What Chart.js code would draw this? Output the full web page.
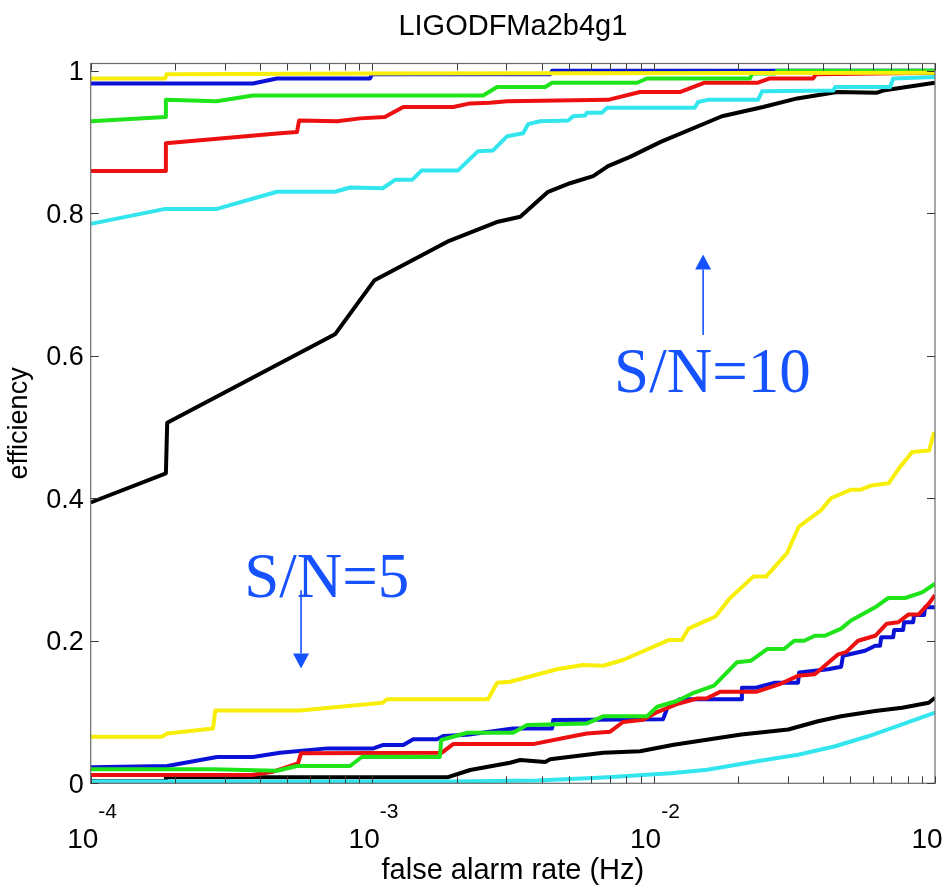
<!DOCTYPE html>
<html>
<head>
<meta charset="utf-8">
<title>LIGODFMa2b4g1</title>
<script src="https://cdn.jsdelivr.net/npm/chart.js@4.4.1/dist/chart.umd.min.js"></script>
<style>
  html, body { margin: 0; padding: 0; background: #ffffff; overflow: hidden; }
  canvas { display: block; }
</style>
</head>
<body>
<canvas id="eff" width="942" height="891"></canvas>
<script>
// Efficiency vs. false alarm rate, pairs of [rate (Hz), efficiency].

// S/N = 10 curves
const snr10Yellow = [[1.00e-4,0.989],[1.84e-4,0.989],[1.86e-4,0.995],[1.00e-3,0.996],[1.00e-1,0.997]];
const snr10Blue = [[1.00e-4,0.982],[3.77e-4,0.982],[4.59e-4,0.989],[9.83e-4,0.989],[1.00e-3,0.995],
  [4.29e-3,0.995],[4.36e-3,1.0],[1.00e-1,1.0]];
const snr10Green = [[1.00e-4,0.929],[1.84e-4,0.935],[1.85e-4,0.959],[2.80e-4,0.957],[3.77e-4,0.965],
  [2.48e-3,0.965],[2.78e-3,0.977],[4.12e-3,0.977],[4.36e-3,0.983],[8.74e-3,0.983],[9.48e-3,0.989],
  [2.20e-2,0.989],[2.24e-2,0.996],[2.70e-2,0.996],[2.75e-2,1.0],[1.00e-1,1.0]];
const snr10Red = [[1.00e-4,0.859],[1.84e-4,0.859],[1.85e-4,0.898],[4.71e-4,0.912],[5.41e-4,0.914],
  [5.50e-4,0.930],[7.50e-4,0.929],[9.06e-4,0.933],[1.11e-3,0.935],[1.29e-3,0.949],[1.94e-3,0.949],
  [2.23e-3,0.954],[2.62e-3,0.955],[3.02e-3,0.957],[6.89e-3,0.959],[8.95e-3,0.970],[1.24e-2,0.970],
  [1.52e-2,0.983],[2.35e-2,0.983],[2.59e-2,0.989],[3.69e-2,0.989],[3.78e-2,0.995],[1.00e-1,0.997]];
const snr10Cyan = [[1.00e-4,0.785],[1.84e-4,0.806],[2.81e-4,0.806],[4.59e-4,0.830],[7.38e-4,0.830],
  [8.35e-4,0.836],[1.09e-3,0.835],[1.21e-3,0.847],[1.39e-3,0.847],[1.50e-3,0.860],[2.02e-3,0.860],
  [2.38e-3,0.887],[2.69e-3,0.888],[3.02e-3,0.908],[3.44e-3,0.912],[3.58e-3,0.925],[3.95e-3,0.929],
  [4.97e-3,0.930],[5.18e-3,0.936],[5.71e-3,0.937],[5.80e-3,0.941],[6.56e-3,0.941],[6.84e-3,0.948],
  [1.40e-2,0.948],[1.44e-2,0.956],[1.56e-2,0.959],[2.35e-2,0.959],[2.43e-2,0.971],[4.35e-2,0.972],
  [4.42e-2,0.977],[6.93e-2,0.977],[7.10e-2,0.989],[1.00e-1,0.991]];
const snr10Black = [[1.00e-4,0.394],[1.85e-4,0.435],[1.87e-4,0.506],[7.38e-4,0.630],[1.02e-3,0.706],
  [1.85e-3,0.760],[2.80e-3,0.788],[3.36e-3,0.795],[4.22e-3,0.830],[5.05e-3,0.842],[6.10e-3,0.852],
  [6.89e-3,0.866],[8.25e-3,0.879],[1.06e-2,0.900],[1.75e-2,0.936],[2.45e-2,0.949],[3.24e-2,0.961],
  [4.49e-2,0.970],[6.23e-2,0.969],[6.54e-2,0.972],[1.00e-1,0.983]];

// S/N = 5 curves
const snr5Yellow = [[1.00e-4,0.0654],[1.79e-4,0.0654],[1.87e-4,0.070],[2.72e-4,0.077],[2.77e-4,0.102],
  [5.54e-4,0.102],[1.09e-3,0.113],[1.13e-3,0.118],[2.58e-3,0.118],[2.78e-3,0.141],[3.09e-3,0.1425],
  [4.54e-3,0.160],[5.62e-3,0.166],[6.62e-3,0.165],[7.79e-3,0.173],[1.13e-2,0.201],[1.26e-2,0.201],
  [1.33e-2,0.217],[1.66e-2,0.234],[1.86e-2,0.259],[2.26e-2,0.290],[2.51e-2,0.290],[2.98e-2,0.323],
  [3.28e-2,0.360],[3.93e-2,0.383],[4.27e-2,0.400],[5.03e-2,0.412],[5.46e-2,0.412],[5.95e-2,0.418],
  [6.84e-2,0.421],[7.52e-2,0.444],[8.30e-2,0.465],[9.53e-2,0.467],[9.93e-2,0.493]];
const snr5Blue = [[1.00e-4,0.0224],[1.87e-4,0.0243],[2.81e-4,0.037],[3.77e-4,0.037],[4.71e-4,0.043],
  [6.92e-4,0.049],[1.01e-3,0.049],[1.09e-3,0.0537],[1.29e-3,0.0537],[1.40e-3,0.0617],[1.70e-3,0.0617],
  [1.79e-3,0.0663],[2.18e-3,0.068],[3.17e-3,0.077],[4.36e-3,0.077],[4.40e-3,0.0888],[1.08e-2,0.0897],
  [1.12e-2,0.106],[1.24e-2,0.118],[2.05e-2,0.118],[2.06e-2,0.134],[2.31e-2,0.134],[2.68e-2,0.141],
  [3.26e-2,0.141],[3.29e-2,0.1555],[4.17e-2,0.160],[4.64e-2,0.1636],[4.71e-2,0.179],[5.64e-2,0.186],
  [6.13e-2,0.193],[6.38e-2,0.193],[6.44e-2,0.205],[7.10e-2,0.205],[7.16e-2,0.215],[7.70e-2,0.215],
  [7.77e-2,0.226],[8.36e-2,0.226],[8.43e-2,0.236],[9.15e-2,0.236],[9.22e-2,0.247],[1.00e-1,0.247]];
const snr5Green = [[1.00e-4,0.0196],[2.72e-4,0.0196],[4.59e-4,0.0177],[5.41e-4,0.0243],[8.35e-4,0.0243],
  [9.21e-4,0.0373],[1.74e-3,0.037],[1.76e-3,0.0607],[2.18e-3,0.071],[3.17e-3,0.071],[3.55e-3,0.0818],
  [5.80e-3,0.084],[6.62e-3,0.094],[9.48e-3,0.094],[1.03e-2,0.1074],[1.21e-2,0.1155],[1.39e-2,0.127],
  [1.64e-2,0.137],[1.98e-2,0.170],[2.22e-2,0.172],[2.54e-2,0.1885],[2.91e-2,0.1885],[3.16e-2,0.200],
  [3.43e-2,0.200],[3.74e-2,0.207],[4.06e-2,0.207],[4.64e-2,0.217],[5.03e-2,0.2285],[6.13e-2,0.247],
  [6.82e-2,0.260],[7.83e-2,0.260],[9.00e-2,0.268],[1.00e-1,0.280]];
const snr5Red = [[1.00e-4,0.0117],[3.74e-4,0.0117],[4.45e-4,0.0163],[5.45e-4,0.028],[5.59e-4,0.042],
  [1.77e-3,0.043],[1.94e-3,0.055],[3.73e-3,0.055],[5.05e-3,0.0654],[5.80e-3,0.070],[7.01e-3,0.0724],
  [7.79e-3,0.086],[9.18e-3,0.089],[1.03e-2,0.100],[1.21e-2,0.111],[1.43e-2,0.119],[1.54e-2,0.119],
  [1.73e-2,0.1286],[2.33e-2,0.1286],[2.84e-2,0.140],[3.26e-2,0.1508],[3.74e-2,0.153],[4.53e-2,0.181],
  [4.83e-2,0.184],[5.33e-2,0.200],[6.13e-2,0.207],[6.74e-2,0.224],[7.40e-2,0.226],[8.06e-2,0.237],
  [8.75e-2,0.237],[9.50e-2,0.252],[1.00e-1,0.264]];
const snr5Cyan = [[1.00e-4,0.0025],[1.89e-3,0.0025],[3.86e-3,0.004],[6.62e-3,0.008],[1.15e-2,0.014],
  [1.55e-2,0.019],[2.33e-2,0.031],[3.26e-2,0.040],[4.42e-2,0.052],[5.79e-2,0.066],[7.64e-2,0.0826],
  [1.00e-1,0.099]];
const snr5Black = [[1.00e-4,0.003],[1.84e-4,0.003],[1.85e-4,0.0084],[1.85e-3,0.0084],[2.23e-3,0.0187],
  [3.09e-3,0.0289],[3.36e-3,0.0327],[4.12e-3,0.030],[4.29e-3,0.0337],[6.62e-3,0.043],[8.95e-3,0.045],
  [1.18e-2,0.054],[2.05e-2,0.0684],[3.01e-2,0.0755],[3.84e-2,0.087],[4.64e-2,0.094],[6.13e-2,0.1014],
  [7.64e-2,0.106],[9.50e-2,0.113],[1.00e-1,0.120]];

// Axis ticks and labels
const yTickValues = [0, 0.2, 0.4, 0.6, 0.8, 1];
const yTickLabels = ['0', '0.2', '0.4', '0.6', '0.8', '1'];
const xDecadeValues = [1e-4, 1e-3, 1e-2, 1e-1];
const xDecadeExponents = ['-4', '-3', '-2', '-1'];
const chartTitle = 'LIGODFMa2b4g1';
const xAxisTitle = 'false alarm rate (Hz)';
const yAxisTitle = 'efficiency';

// Annotations: label text, label anchor [rate, efficiency], arrow from/to [rate, efficiency]
const noteHigh = { text: 'S/N=10', at: [7.24e-3, 0.5495], arrowFrom: [1.50e-2, 0.629], arrowTo: [1.50e-2, 0.742] };
const noteLow  = { text: 'S/N=5',  at: [3.51e-4, 0.2617], arrowFrom: [5.59e-4, 0.271], arrowTo: [5.59e-4, 0.161] };

const SANS = '"Liberation Sans", Arial, Helvetica, sans-serif';
const SERIF = '"Liberation Serif", "Times New Roman", serif';
const NOTE_BLUE = '#1652ff';

const palette = {
  yellow: '#f7ee0a',
  green: '#1fe41a',
  red: '#ec1010',
  blue: '#0b12d8',
  cyan: '#33e6ee',
  black: '#000000'
};

function toPoints(pairs) { return pairs.map(p => ({ x: p[0], y: p[1] })); }

function curve(pairs, color) {
  return {
    data: toPoints(pairs),
    borderColor: color,
    backgroundColor: color,
    borderWidth: 4,
    pointRadius: 0,
    showLine: true,
    tension: 0,
    fill: false,
    borderJoinStyle: 'round',
    borderCapStyle: 'butt'
  };
}

// The first dataset is painted last (on top).
const datasets = [
  curve(snr10Yellow, palette.yellow),
  curve(snr10Green, palette.green),
  curve(snr10Red, palette.red),
  curve(snr10Blue, palette.blue),
  curve(snr10Cyan, palette.cyan),
  curve(snr10Black, palette.black),
  curve(snr5Yellow, palette.yellow),
  curve(snr5Green, palette.green),
  curve(snr5Red, palette.red),
  curve(snr5Blue, palette.blue),
  curve(snr5Cyan, palette.cyan),
  curve(snr5Black, palette.black)
];

function strokeLine(ctx, x1, y1, x2, y2) {
  ctx.beginPath(); ctx.moveTo(x1, y1); ctx.lineTo(x2, y2); ctx.stroke();
}

const axesDecor = {
  id: 'axesDecor',
  afterDraw(chart) {
    const ctx = chart.ctx;
    const a = chart.chartArea;
    const xs = chart.scales.x, ys = chart.scales.y;
    ctx.save();

    // box
    ctx.strokeStyle = '#6a6a6a';
    ctx.lineWidth = 1.2;
    ctx.strokeRect(a.left, a.top, a.right - a.left, a.bottom - a.top);

    // y ticks, inward on both sides
    ctx.strokeStyle = '#3c3c3c';
    ctx.lineWidth = 1;
    yTickValues.forEach(v => {
      const py = Math.round(ys.getPixelForValue(v)) + 0.5;
      strokeLine(ctx, a.left, py, a.left + 8, py);
      strokeLine(ctx, a.right, py, a.right - 8, py);
    });

    // x ticks (decades and log minor ticks), inward on top and bottom
    const xTickValues = [];
    for (let d = 0; d < xDecadeValues.length; d++) {
      xTickValues.push(xDecadeValues[d]);
      if (d < xDecadeValues.length - 1) {
        for (let k = 2; k <= 9; k++) xTickValues.push(k * xDecadeValues[d]);
      }
    }
    xTickValues.forEach(v => {
      const px = Math.round(xs.getPixelForValue(v)) + 0.5;
      strokeLine(ctx, px, a.bottom, px, a.bottom - 7);
      strokeLine(ctx, px, a.top, px, a.top + 7);
    });

    // y tick labels
    ctx.fillStyle = '#000';
    ctx.font = '27px ' + SANS;
    ctx.textAlign = 'right';
    ctx.textBaseline = 'middle';
    yTickValues.forEach((v, i) => {
      ctx.fillText(yTickLabels[i], a.left - 7, ys.getPixelForValue(v) + 2);
    });

    // x tick labels: 10 with a raised exponent
    ctx.textAlign = 'left';
    ctx.textBaseline = 'alphabetic';
    const baseFont = '28px ' + SANS, expFont = '21px ' + SANS;
    xDecadeValues.forEach((v, i) => {
      ctx.font = baseFont;
      const wBase = ctx.measureText('10').width;
      const cx = xs.getPixelForValue(v) - 8;
      const x0 = cx - wBase / 2;
      ctx.fillText('10', x0, 848);
      ctx.font = expFont;
      ctx.fillText(xDecadeExponents[i], x0 + wBase, 818);
    });

    // title and axis titles
    const midX = (a.left + a.right) / 2;
    ctx.textAlign = 'center';
    ctx.font = '29px ' + SANS;
    ctx.fillText(chartTitle, midX, 35);
    ctx.fillText(xAxisTitle, midX, 879);
    ctx.save();
    ctx.translate(27, (a.top + a.bottom) / 2);
    ctx.rotate(-Math.PI / 2);
    ctx.font = '27px ' + SANS;
    ctx.fillText(yAxisTitle, 0, 0);
    ctx.restore();

    // annotations
    [noteHigh, noteLow].forEach(n => {
      ctx.fillStyle = NOTE_BLUE;
      ctx.strokeStyle = NOTE_BLUE;
      ctx.font = '63px ' + SERIF;
      ctx.textAlign = 'left';
      ctx.textBaseline = 'alphabetic';
      ctx.fillText(n.text, xs.getPixelForValue(n.at[0]), ys.getPixelForValue(n.at[1]));

      const ax = xs.getPixelForValue(n.arrowFrom[0]);
      const y1 = ys.getPixelForValue(n.arrowFrom[1]);
      const y2 = ys.getPixelForValue(n.arrowTo[1]);
      const dir = y2 < y1 ? -1 : 1;
      const headLen = 15, headHalf = 8;
      ctx.lineWidth = 1.6;
      strokeLine(ctx, ax, y1, ax, y2 - dir * headLen);
      ctx.beginPath();
      ctx.moveTo(ax, y2);
      ctx.lineTo(ax - headHalf, y2 - dir * headLen);
      ctx.lineTo(ax + headHalf, y2 - dir * headLen);
      ctx.closePath();
      ctx.fill();
    });

    ctx.restore();
  }
};

new Chart(document.getElementById('eff'), {
  type: 'scatter',
  data: { datasets },
  options: {
    responsive: false,
    devicePixelRatio: 1,
    animation: false,
    events: [],
    layout: { padding: { left: 0, top: 63.5, right: 7, bottom: 0 } },
    plugins: { legend: { display: false }, tooltip: { enabled: false }, title: { display: false } },
    scales: {
      x: {
        type: 'logarithmic',
        min: 1e-4,
        max: 1e-1,
        grid: { display: false },
        border: { display: false },
        ticks: { display: false },
        afterFit(scale) { scale.height = 107.7; }
      },
      y: {
        type: 'linear',
        min: 0,
        max: 1.01,
        grid: { display: false },
        border: { display: false },
        ticks: { display: false },
        afterFit(scale) { scale.width = 90.7; }
      }
    }
  },
  plugins: [axesDecor]
});
</script>
</body>
</html>
